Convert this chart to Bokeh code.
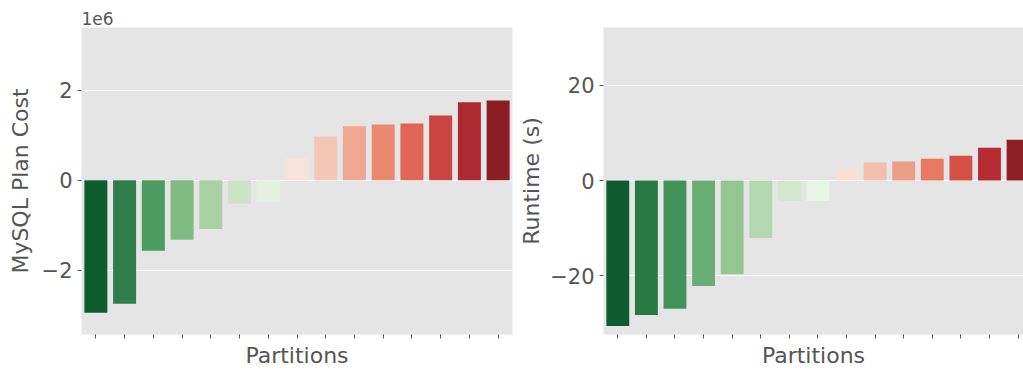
from bokeh.plotting import figure
from bokeh.layouts import row
from bokeh.models import FixedTicker, Range1d, ColumnDataSource, Title
from bokeh.embed import file_html
from bokeh.resources import INLINE

# ---- data ----
partitions = list(range(15))
plan_cost = [-2.94e6, -2.74e6, -1.56e6, -1.32e6, -1.08e6, -0.52e6, -0.48e6,
             0.49e6, 0.97e6, 1.20e6, 1.24e6, 1.26e6, 1.44e6, 1.73e6, 1.77e6]
runtime = [-30.6, -28.3, -27.0, -22.2, -19.7, -12.1, -4.3, -4.3,
           2.5, 3.8, 4.0, 4.6, 5.2, 6.9, 8.6]
cost_colors = ["#0c5e2f", "#2e7d4a", "#4c9c61", "#7fba80", "#a9d1a3", "#cbe4c6", "#e4f1e1",
               "#f8e2da", "#f4c6b6", "#eea891", "#e98a6f", "#df6654", "#cb4540", "#ac2a2f", "#8a1e24"]
runtime_colors = ["#0d5b2e", "#287844", "#439259", "#69ae73", "#93c690", "#b4d8b0", "#d1e8cd", "#e8f4e5",
                  "#f8e0d7", "#f1bfab", "#ec9d85", "#e77a60", "#d65046", "#b52c32", "#8e1f26"]
cost_ticks = [-2e6, 0, 2e6]
cost_tick_labels = ["\u22122", "0", "2"]
runtime_ticks = [-20, 0, 20]
runtime_tick_labels = ["\u221220", "0", "20"]

FONT = "DejaVu Sans"
TXT = "#555555"


def style(p, ylabel, ticks, labels, lab_standoff):
    p.background_fill_color = "#E5E5E5"
    p.border_fill_color = "white"
    p.outline_line_color = None
    p.xgrid.visible = False
    p.ygrid.grid_line_color = "white"
    p.ygrid.grid_line_width = 1
    p.ygrid.ticker = FixedTicker(ticks=ticks)

    xa = p.xaxis[0]
    xa.ticker = FixedTicker(ticks=partitions)
    xa.major_label_overrides = {i: "" for i in partitions}
    xa.major_label_text_font_size = "1px"
    xa.major_label_standoff = 0
    xa.axis_line_color = None
    xa.major_tick_line_color = TXT
    xa.major_tick_out = 4
    xa.major_tick_in = 0
    xa.minor_tick_line_color = None
    xa.axis_label = "Partitions"
    xa.axis_label_text_font = FONT
    xa.axis_label_text_font_size = "22px"
    xa.axis_label_text_font_style = "normal"
    xa.axis_label_text_color = TXT
    xa.axis_label_standoff = 4

    ya = p.yaxis[0]
    ya.ticker = FixedTicker(ticks=ticks)
    ya.major_label_overrides = {t: l for t, l in zip(ticks, labels)}
    ya.major_label_text_font = FONT
    ya.major_label_text_font_size = "21px"
    ya.major_label_text_color = TXT
    ya.major_label_standoff = 5
    ya.axis_line_color = None
    ya.major_tick_line_color = TXT
    ya.major_tick_out = 4
    ya.major_tick_in = 0
    ya.minor_tick_line_color = None
    ya.axis_label = ylabel
    ya.axis_label_text_font = FONT
    ya.axis_label_text_font_size = "22px"
    ya.axis_label_text_font_style = "normal"
    ya.axis_label_text_color = TXT
    ya.axis_label_standoff = lab_standoff


p1 = figure(width=516, height=370, output_backend="svg", toolbar_location=None,
            x_range=Range1d(-0.5, 14.5), y_range=Range1d(-3.42e6, 3.39e6),
            min_border_left=81, min_border_right=4, min_border_top=27, min_border_bottom=36)
src1 = ColumnDataSource(dict(x=partitions, top=plan_cost, color=cost_colors))
p1.vbar(x="x", top="top", bottom=0, width=0.8, color="color", line_color=None, source=src1)
style(p1, "MySQL Plan Cost", cost_ticks, cost_tick_labels, 6)
t = Title(text="1e6", align="left", text_font=FONT, text_font_size="17px",
          text_font_style="normal", text_color=TXT, standoff=5, offset=0)
p1.add_layout(t, "above")

p2 = figure(width=507, height=370, output_backend="svg", toolbar_location=None,
            x_range=Range1d(-0.5, 14.19), y_range=Range1d(-32.4, 32.2),
            min_border_left=84, min_border_right=0, min_border_top=27, min_border_bottom=36)
src2 = ColumnDataSource(dict(x=partitions, top=runtime, color=runtime_colors))
p2.vbar(x="x", top="top", bottom=0, width=0.8, color="color", line_color=None, source=src2)
style(p2, "Runtime (s)", runtime_ticks, runtime_tick_labels, 3)

layout = row(p1, p2)
open("out.html", "w").write(file_html(layout, INLINE))
